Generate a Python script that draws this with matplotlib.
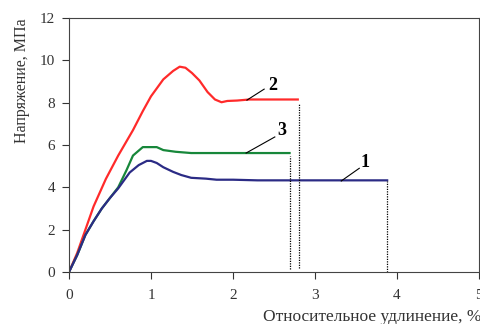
import matplotlib
matplotlib.use('Agg')
import matplotlib.pyplot as plt

plt.rcParams['font.family'] = ['Liberation Serif', 'DejaVu Serif']

# curve 2 (red)
x2 = [0, 0.1, 0.2, 0.3, 0.45, 0.6, 0.78, 0.9, 1.0, 1.15, 1.27, 1.35, 1.42, 1.5, 1.59, 1.69, 1.78, 1.86, 1.93, 2.05, 2.2, 2.79]
y2 = [0, 0.9, 2.0, 3.1, 4.4, 5.5, 6.7, 7.6, 8.3, 9.1, 9.5, 9.7, 9.65, 9.4, 9.05, 8.5, 8.15, 8.02, 8.08, 8.1, 8.15, 8.15]
# curve 3 (green)
x3 = [0, 0.1, 0.2, 0.3, 0.4, 0.5, 0.6, 0.7, 0.78, 0.9, 1.07, 1.15, 1.3, 1.49, 2.69]
y3 = [0, 0.8, 1.75, 2.4, 3.0, 3.5, 4.0, 4.8, 5.5, 5.9, 5.9, 5.76, 5.68, 5.62, 5.62]
# curve 1 (blue)
x1 = [0, 0.1, 0.2, 0.3, 0.4, 0.5, 0.6, 0.74, 0.85, 0.95, 1.0, 1.07, 1.15, 1.27, 1.37, 1.49, 1.67, 1.8, 2.0, 2.3, 3.88]
y1 = [0, 0.8, 1.75, 2.4, 3.0, 3.5, 3.95, 4.7, 5.05, 5.25, 5.25, 5.15, 4.95, 4.73, 4.58, 4.45, 4.41, 4.36, 4.36, 4.33, 4.33]

# break points (dotted lines)
x_break = [2.8, 2.7, 3.88]
y_break_top = [8.0, 5.5, 4.3]
y_break_bot = [0.19, 0.14, 0.0]

# labels: text, text position, leader start, leader end
labels = ['2', '3', '1']
label_xy = [(2.48, 8.8), (2.6, 6.7), (3.61, 5.15)]
leader_from = [(2.17, 8.12), (2.16, 5.62), (3.32, 4.3)]
leader_to = [(2.38, 8.64), (2.51, 6.38), (3.54, 4.9)]

fig = plt.figure(figsize=(4.8, 3.24), dpi=100)
ax = fig.add_axes([69 / 480, 1 - 272 / 324, 410 / 480, 254 / 324])

ax.plot(x2, y2, color='#ff2a2a', lw=1.6)
ax.plot(x3, y3, color='#17873a', lw=1.6)
ax.plot(x1, y1, color='#2b2b85', lw=1.6)

for xb, yt, yb in zip(x_break, y_break_top, y_break_bot):
    ax.plot([xb, xb], [yb, yt], color='black', lw=0.9, ls=(0, (1, 1)))

for t, (tx, ty), p0, p1 in zip(labels, label_xy, leader_from, leader_to):
    ax.plot([p0[0], p1[0]], [p0[1], p1[1]], color='black', lw=0.8)
    ax.text(tx, ty, t, fontsize=13, fontweight='bold', ha='center', va='center')

ax.set_xlim(0, 5)
ax.set_ylim(0, 12)
ax.set_xticks(range(0, 6))
ax.set_yticks(range(0, 13, 2))
ax.tick_params(labelsize=11, length=5, width=0.8, color='#333333', labelcolor='#333333')
ax.tick_params(axis='y', pad=5)
ax.tick_params(axis='x', pad=7)
for s in ax.spines.values():
    s.set_linewidth(0.8)
    s.set_color('#444444')

fig.text(263 / 480, 1 - 317 / 324, 'Относительное удлинение, %', fontsize=12.5,
         ha='left', va='center', color='#333333')
fig.text(22 / 480, 1 - 81 / 324, 'Напряжение, МПа', fontsize=11.5, rotation=90,
         ha='center', va='center', color='#333333')

fig.savefig('out.png', dpi=100)
